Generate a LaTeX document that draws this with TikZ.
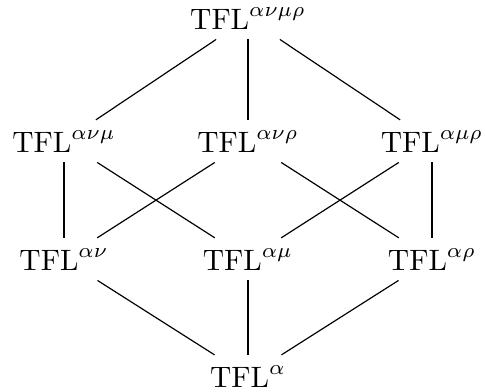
\documentclass[tikz,border=0pt]{standalone}
\begin{document}
\begin{tikzpicture}[x=0.339pt,y=-0.339pt,
  lat/.style={anchor=base, inner sep=3.33pt},
  edge/.style={line width=0.4pt}]
\useasboundingbox (0,0) rectangle (485,391);
\node[lat] (anmr) at (248,29) {$\mathrm{TFL}^{\alpha\nu\mu\rho}$};
\node[lat] (anm) at (64,152) {$\mathrm{TFL}^{\alpha\nu\mu}$};
\node[lat] (anr) at (248,152) {$\mathrm{TFL}^{\alpha\nu\rho}$};
\node[lat] (amr) at (432,152) {$\mathrm{TFL}^{\alpha\mu\rho}$};
\node[lat] (an) at (64,270) {$\mathrm{TFL}^{\alpha\nu}$};
\node[lat] (am) at (248,270) {$\mathrm{TFL}^{\alpha\mu}$};
\node[lat] (ar) at (432,270) {$\mathrm{TFL}^{\alpha\rho}$};
\node[lat] (a) at (248,387) {$\mathrm{TFL}^{\alpha}$};
\draw[edge] (anmr) -- (anm);
\draw[edge] (anmr) -- (anr);
\draw[edge] (anmr) -- (amr);
\draw[edge] (anm) -- (an);
\draw[edge] (anm) -- (am);
\draw[edge] (anr) -- (an);
\draw[edge] (anr) -- (ar);
\draw[edge] (amr) -- (am);
\draw[edge] (amr) -- (ar);
\draw[edge] (an) -- (a);
\draw[edge] (am) -- (a);
\draw[edge] (ar) -- (a);
\end{tikzpicture}
\end{document}
